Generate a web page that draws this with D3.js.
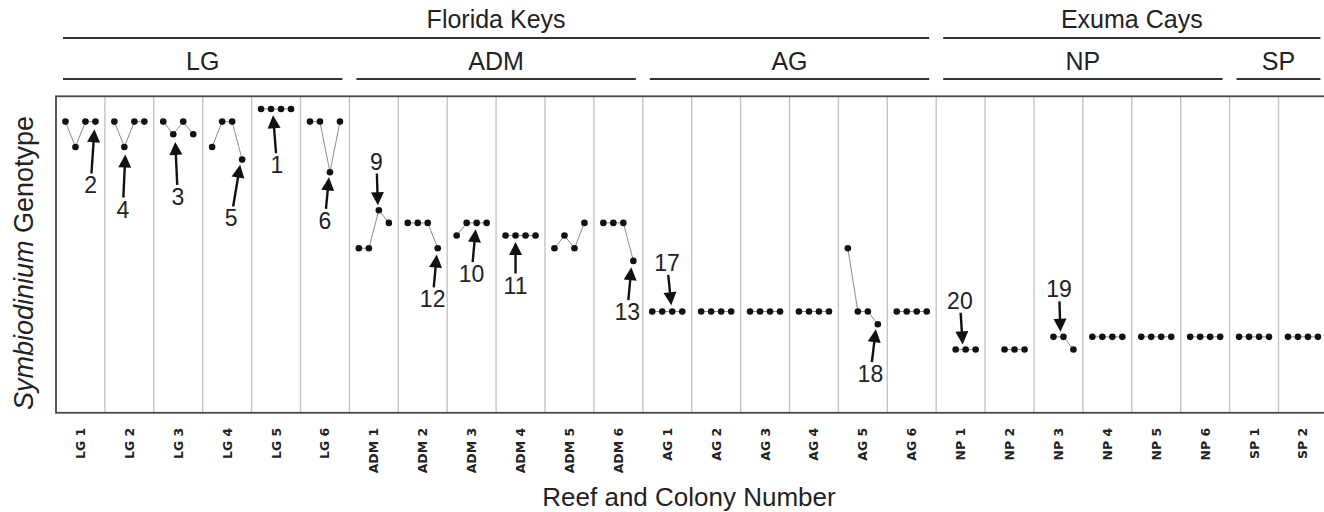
<!DOCTYPE html>
<html>
<head>
<meta charset="utf-8">
<script src="https://cdn.jsdelivr.net/npm/d3@7"></script>
<style>
  body { margin: 0; background: #fff; }
  svg { display: block; font-family: 'Liberation Sans', Arial, sans-serif; }
</style>
</head>
<body>
<svg id="chart" width="1324" height="512"></svg>
<script>
'use strict';

const colonies = [
  'LG 1', 'LG 2', 'LG 3', 'LG 4', 'LG 5', 'LG 6',
  'ADM 1', 'ADM 2', 'ADM 3', 'ADM 4', 'ADM 5', 'ADM 6',
  'AG 1', 'AG 2', 'AG 3', 'AG 4', 'AG 5', 'AG 6',
  'NP 1', 'NP 2', 'NP 3', 'NP 4', 'NP 5', 'NP 6',
  'SP 1', 'SP 2'
];
const reefs = ['LG', 'ADM', 'AG', 'NP', 'SP'];
const regions = ['Florida Keys', 'Exuma Cays'];
const regionReefs = [['LG', 'ADM', 'AG'], ['NP', 'SP']];
const samples = [1, 2, 3, 4];

// genotype row of each sample (1 = top row), null = no sample
const genotypes = [
  [2, 4, 2, 2], [2, 4, 2, 2], [2, 3, 2, 3], [4, 2, 2, 5], [1, 1, 1, 1], [2, 2, 6, 2],
  [12, 12, 9, 10], [10, 10, 10, 12], [11, 10, 10, 10], [11, 11, 11, 11], [12, 11, 12, 10], [10, 10, 10, 13],
  [17, 17, 17, 17], [17, 17, 17, 17], [17, 17, 17, 17], [17, 17, 17, 17], [12, 17, 17, 18], [17, 17, 17, 17],
  [null, 20, 20, 20], [null, 20, 20, 20], [null, 19, 19, 20], [19, 19, 19, 19], [19, 19, 19, 19], [19, 19, 19, 19],
  [19, 19, 19, 19], [19, 19, 19, 19]
];

// numbered arrows: tip and tail as [sample, genotype row]
const arrows = [
  { colony: 'LG 1', label: '2', tip: [3.9, 2.6], tail: [3.6, 6.1] },
  { colony: 'LG 2', label: '4', tip: [2.1, 4.6], tail: [1.9, 8.0] },
  { colony: 'LG 3', label: '3', tip: [2.2, 3.6], tail: [2.4, 7.0] },
  { colony: 'LG 4', label: '5', tip: [3.8, 5.4], tail: [3.1, 8.7] },
  { colony: 'LG 5', label: '1', tip: [2.2, 1.5], tail: [2.5, 4.5] },
  { colony: 'LG 6', label: '6', tip: [2.9, 6.4], tail: [2.6, 8.9] },
  { colony: 'ADM 1', label: '9', tip: [2.9, 8.6], tail: [2.8, 6.1] },
  { colony: 'ADM 2', label: '12', tip: [3.9, 12.5], tail: [3.6, 15.1] },
  { colony: 'ADM 3', label: '10', tip: [2.9, 10.5], tail: [2.6, 13.1] },
  { colony: 'ADM 4', label: '11', tip: [2.0, 11.5], tail: [2.0, 14.0] },
  { colony: 'ADM 6', label: '13', tip: [3.8, 13.5], tail: [3.5, 16.1] },
  { colony: 'AG 1', label: '17', tip: [2.9, 16.5], tail: [2.6, 14.1] },
  { colony: 'AG 5', label: '18', tip: [3.8, 18.4], tail: [3.4, 21.0] },
  { colony: 'NP 1', label: '20', tip: [2.7, 19.6], tail: [2.5, 17.1] },
  { colony: 'NP 3', label: '19', tip: [2.7, 18.6], tail: [2.6, 16.2] }
];

const svg = d3.select('#chart');

const x = d3.scaleBand().domain(colonies).range([56, 56 + 48.9 * colonies.length]);
const sx = d3.scaleLinear().domain([1, 4]).range([-15, 15]);
const y = d3.scaleLinear().domain([0, 25]).range([96.3, 412.8]);

const cx = (colony, s) => x(colony) + x.bandwidth() / 2 + sx(s);
const reefOf = colony => colony.split(' ')[0];

// column separators
svg.append('g')
  .selectAll('line')
  .data(colonies.slice(1))
  .join('line')
  .attr('x1', d => x(d))
  .attr('x2', d => x(d))
  .attr('y1', y(0))
  .attr('y2', y(25))
  .attr('stroke', '#c4c4c4')
  .attr('stroke-width', 1.4);

// frame
svg.append('rect')
  .attr('x', x.range()[0])
  .attr('y', y(0))
  .attr('width', x.range()[1] - x.range()[0])
  .attr('height', y(25) - y(0))
  .attr('fill', 'none')
  .attr('stroke', '#4a4a4a')
  .attr('stroke-width', 1.8);

// x axis labels
const xAxis = svg.append('g')
  .attr('transform', `translate(0,${y(25)})`)
  .call(d3.axisBottom(x).tickSize(0));
xAxis.select('.domain').remove();
xAxis.selectAll('text')
  .attr('transform', 'rotate(-90)')
  .attr('text-anchor', 'end')
  .attr('x', -15)
  .attr('y', 0)
  .attr('dy', '0.36em')
  .attr('fill', '#222')
  .style('font-family', '"DejaVu Sans", sans-serif')
  .style('font-weight', 'bold')
  .style('font-size', '12.5px');

// reef and region headers
function span(cols) {
  return [x(cols[0]), x(cols[cols.length - 1]) + x.bandwidth()];
}

function drawHeader(name, cols, lineY, textY) {
  const [x0, x1] = span(cols);
  svg.append('line')
    .attr('x1', x0 + 7)
    .attr('x2', x1 - 7)
    .attr('y1', lineY)
    .attr('y2', lineY)
    .attr('stroke', '#333')
    .attr('stroke-width', 1.8);
  svg.append('text')
    .attr('x', (x0 + x1) / 2)
    .attr('y', textY)
    .attr('text-anchor', 'middle')
    .attr('fill', '#222')
    .style('font-size', '25px')
    .text(name);
}

reefs.forEach(reef => {
  drawHeader(reef, colonies.filter(c => reefOf(c) === reef), 79, 70);
});
regions.forEach((region, i) => {
  drawHeader(region, colonies.filter(c => regionReefs[i].includes(reefOf(c))), 38, 28);
});

// genotype traces
const line = d3.line()
  .x(d => cx(d.colony, d.s))
  .y(d => y(d.g));

const series = colonies.map((colony, i) => samples.map((s, j) => ({ colony, s, g: genotypes[i][j] })));

svg.append('g')
  .selectAll('path')
  .data(series)
  .join('path')
  .attr('d', d => line(d.filter(p => p.g !== null)))
  .attr('fill', 'none')
  .attr('stroke', '#8c8c8c')
  .attr('stroke-width', 1);

svg.append('g')
  .selectAll('circle')
  .data(series.flat().filter(d => d.g !== null))
  .join('circle')
  .attr('cx', d => cx(d.colony, d.s))
  .attr('cy', d => y(d.g))
  .attr('r', 3.3)
  .attr('fill', '#111');

// arrows
function drawArrow(a) {
  const px = cx(a.colony, a.tip[0]);
  const py = y(a.tip[1]);
  const tx = cx(a.colony, a.tail[0]);
  const ty = y(a.tail[1]);
  const len = Math.hypot(px - tx, py - ty);
  const ux = (px - tx) / len;
  const uy = (py - ty) / len;
  const headLen = 13;
  const headW = 6.5;
  const bx = px - ux * headLen;
  const by = py - uy * headLen;

  const g = svg.append('g');
  g.append('line')
    .attr('x1', tx)
    .attr('y1', ty)
    .attr('x2', bx + ux * 2)
    .attr('y2', by + uy * 2)
    .attr('stroke', '#111')
    .attr('stroke-width', 2.4);
  g.append('path')
    .attr('d', `M${px},${py}L${bx - uy * headW},${by + ux * headW}L${bx + uy * headW},${by - ux * headW}Z`)
    .attr('fill', '#111');
  g.append('text')
    .attr('x', tx - ux * 12)
    .attr('y', ty - uy * 12)
    .attr('text-anchor', 'middle')
    .attr('dominant-baseline', 'central')
    .attr('fill', '#222')
    .style('font-size', '23px')
    .text(a.label);
}

arrows.forEach(drawArrow);

// axis titles
svg.append('text')
  .attr('x', 689)
  .attr('y', 506)
  .attr('text-anchor', 'middle')
  .attr('fill', '#222')
  .style('font-size', '26px')
  .text('Reef and Colony Number');

const yTitle = svg.append('text')
  .attr('transform', 'translate(33,263) rotate(-90)')
  .attr('text-anchor', 'middle')
  .attr('fill', '#222')
  .style('font-size', '27px');
yTitle.append('tspan').style('font-style', 'italic').text('Symbiodinium');
yTitle.append('tspan').text(' Genotype');
</script>
</body>
</html>
